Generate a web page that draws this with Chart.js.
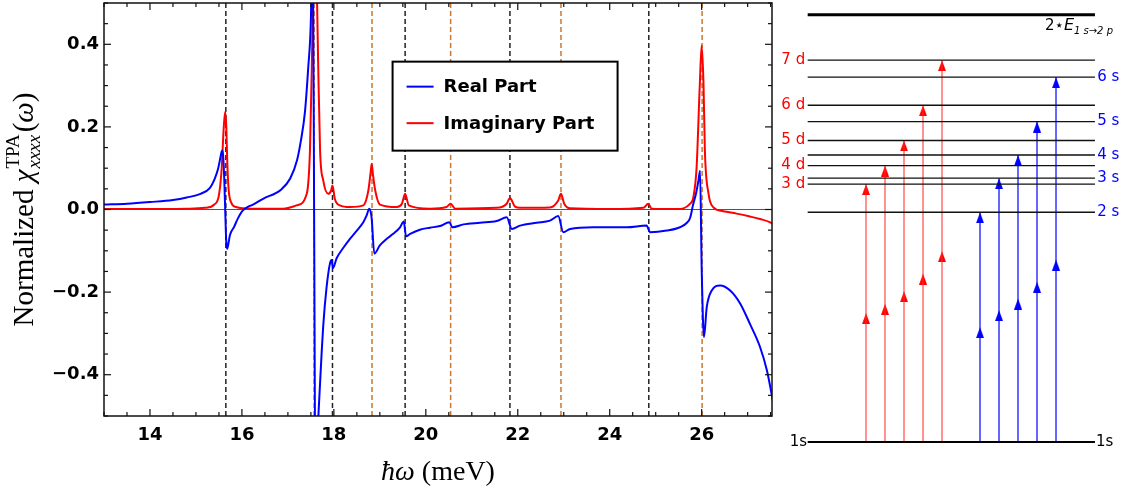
<!DOCTYPE html>
<html>
<head>
<meta charset="utf-8">
<script src="https://cdn.jsdelivr.net/npm/chart.js@4.4.1/dist/chart.umd.min.js"></script>
<style>
  html, body { margin: 0; padding: 0; background: #fff; }
  #wrap { position: relative; width: 1123px; height: 493px; }
  #tpa { position: absolute; left: 0; top: 0; }
  #levels { position: absolute; left: 776px; top: 0; }
</style>
</head>
<body>
<div id="wrap">
  <canvas id="tpa" width="776" height="493"></canvas>
  <canvas id="levels" width="347" height="493"></canvas>
</div>
<script>
// photon energy (meV) and normalized chi
const realX = [13.00, 13.50, 14.00, 14.50, 14.80, 15.10, 15.30, 15.41, 15.48, 15.52, 15.56, 15.58, 15.60, 15.62,
  15.64, 15.66, 15.68, 15.71, 15.74, 15.83, 15.91, 16.02, 16.12, 16.24, 16.46, 16.85, 17.05, 17.20, 17.28,
  17.37, 17.44, 17.50, 17.54, 17.57, 17.60, 17.64, 17.70, 17.77, 17.84, 17.92, 17.95, 17.98, 18.06, 18.21,
  18.35, 18.50, 18.64, 18.71, 18.77, 18.82, 18.88, 19.00, 19.15, 19.29, 19.44, 19.52, 19.57, 19.66, 19.87,
  20.09, 20.31, 20.51, 20.58, 20.82, 21.18, 21.54, 21.76, 21.87, 22.05, 22.41, 22.70, 22.88, 22.99, 23.14,
  23.64, 24.37, 24.80, 24.88, 25.24, 25.53, 25.68, 25.75, 25.81, 25.88, 25.93, 25.965, 26.00, 26.05, 26.11,
  26.22, 26.40, 26.62, 26.84, 27.05, 27.27, 27.42, 27.52, 27.60];
const realY = [0.012, 0.014, 0.018, 0.023, 0.029, 0.038, 0.052, 0.075, 0.098, 0.119, 0.140, 0.143, 0.115, 0.060,
  -0.015, -0.080, -0.095, -0.080, -0.062, -0.042, -0.022, -0.002, 0.006, 0.012, 0.026, 0.048, 0.075, 0.120, 0.165,
  0.235, 0.340, 0.460, 0.700, 0.000, -0.700, -0.560, -0.420, -0.280, -0.190, -0.128, -0.122, -0.142, -0.118, -0.092,
  -0.071, -0.051, -0.031, -0.015, 0.002, -0.019, -0.107, -0.087, -0.071, -0.059, -0.043, -0.029, -0.065, -0.059, -0.049,
  -0.044, -0.040, -0.031, -0.043, -0.036, -0.032, -0.028, -0.019, -0.047, -0.039, -0.032, -0.027, -0.016, -0.055, -0.047,
  -0.043, -0.043, -0.039, -0.055, -0.051, -0.043, -0.032, -0.020, 0.010, 0.040, 0.070, 0.094, -0.140, -0.309, -0.237,
  -0.196, -0.184, -0.196, -0.228, -0.277, -0.333, -0.390, -0.446, -0.494];

const imagX = [13.00, 14.00, 14.80, 15.20, 15.40, 15.50, 15.56, 15.60, 15.635, 15.66, 15.68, 15.71, 15.77, 15.87,
  16.20, 16.90, 17.19, 17.41, 17.48, 17.52, 17.545, 17.59, 17.635, 17.66, 17.70, 17.77, 17.88, 17.94, 17.97,
  18.02, 18.13, 18.35, 18.64, 18.75, 18.80, 18.823, 18.85, 18.90, 19.00, 19.37, 19.48, 19.55, 19.63, 20.09,
  20.45, 20.54, 20.64, 21.54, 21.76, 21.83, 21.94, 22.05, 22.70, 22.88, 22.94, 23.01, 23.14, 24.00, 24.73,
  24.84, 24.91, 25.46, 25.75, 25.82, 25.89, 25.96, 26.00, 26.04, 26.07, 26.15, 26.25, 26.47, 26.76, 27.05,
  27.27, 27.49, 27.60];
const imagY = [0.001, 0.001, 0.002, 0.004, 0.012, 0.035, 0.100, 0.190, 0.236, 0.200, 0.120, 0.050, 0.016, 0.006,
  0.002, 0.002, 0.010, 0.038, 0.143, 0.345, 0.500, 0.900, 0.500, 0.345, 0.143, 0.070, 0.038, 0.046, 0.058,
  0.026, 0.010, 0.006, 0.010, 0.046, 0.090, 0.111, 0.085, 0.046, 0.012, 0.006, 0.014, 0.038, 0.010, 0.002,
  0.006, 0.014, 0.002, 0.004, 0.014, 0.028, 0.007, 0.004, 0.005, 0.022, 0.038, 0.014, 0.003, 0.001, 0.004,
  0.014, 0.002, 0.001, 0.014, 0.030, 0.102, 0.304, 0.397, 0.304, 0.143, 0.038, 0.006, -0.004, -0.010, -0.017,
  -0.023, -0.031, -0.039];

// two-photon resonances (dashed lines), meV
const sResonances = [15.65, 17.97, 19.55, 21.83, 24.85];
const dResonances = [17.57, 18.83, 20.54, 22.94, 26.01];

const xTickLabels = [14, 16, 18, 20, 22, 24, 26];
const yTickLabels = [-0.4, -0.2, 0.0, 0.2, 0.4];

// level scheme (meV above 1s)
const sLevels = [31.3, 35.94, 39.1, 43.66, 49.7];
const dLevels = [35.14, 37.66, 41.08, 45.88, 52.02];
const sNames = ['2 s', '3 s', '4 s', '5 s', '6 s'];
const dNames = ['3 d', '4 d', '5 d', '6 d', '7 d'];
const groundLevel = 0;
const twoPhotonLimit = 58.2;

Chart.defaults.font.family = "'DejaVu Sans', sans-serif";
Chart.defaults.color = '#000';

const isMajorX = v => xTickLabels.some(t => Math.abs(t - v) < 1e-6);
const isMajorY = v => yTickLabels.some(t => Math.abs(t - v) < 1e-6);

function vline(ctx, x, y1, y2) {
  ctx.beginPath(); ctx.moveTo(x, y1); ctx.lineTo(x, y2); ctx.stroke();
}
function hline(ctx, x1, x2, y) {
  ctx.beginPath(); ctx.moveTo(x1, y); ctx.lineTo(x2, y); ctx.stroke();
}

const tpaDecor = {
  id: 'tpaDecor',
  beforeDatasetsDraw(chart) {
    const { ctx, chartArea: a, scales: { x, y } } = chart;
    ctx.save();
    ctx.strokeStyle = '#555';
    ctx.lineWidth = 1.2;
    hline(ctx, a.left, a.right, y.getPixelForValue(0));
    ctx.setLineDash([5, 3]);
    ctx.lineWidth = 1.5;
    ctx.strokeStyle = '#222';
    sResonances.forEach(v => vline(ctx, x.getPixelForValue(v), a.top, a.bottom));
    ctx.strokeStyle = '#c8782f';
    dResonances.forEach(v => vline(ctx, x.getPixelForValue(v), a.top, a.bottom));
    ctx.restore();
  },
  afterDatasetsDraw(chart) {
    const { ctx, chartArea: a, scales: { x, y } } = chart;
    ctx.save();
    // frame + inward ticks
    ctx.strokeStyle = '#111';
    ctx.lineWidth = 1.5;
    ctx.strokeRect(a.left, a.top, a.right - a.left, a.bottom - a.top);
    ctx.lineWidth = 1.2;
    x.ticks.forEach(t => {
      const px = x.getPixelForValue(t.value);
      const len = isMajorX(t.value) ? 7 : 4;
      vline(ctx, px, a.bottom, a.bottom - len);
      vline(ctx, px, a.top, a.top + len);
    });
    y.ticks.forEach(t => {
      const py = y.getPixelForValue(t.value);
      const len = isMajorY(t.value) ? 7 : 4;
      hline(ctx, a.left, a.left + len, py);
      hline(ctx, a.right, a.right - len, py);
    });

    // legend box
    const w = a.right - a.left, h = a.bottom - a.top;
    const bx = a.left + 0.432 * w, by = a.top + 0.142 * h;
    ctx.fillStyle = '#fff';
    ctx.fillRect(bx, by, 225, 89);
    ctx.strokeStyle = '#000';
    ctx.lineWidth = 2;
    ctx.strokeRect(bx, by, 225, 89);
    ctx.font = "bold 18px 'DejaVu Sans'";
    ctx.textBaseline = 'middle';
    chart.data.datasets.forEach((ds, i) => {
      const ly = by + 25 + i * 36.5;
      ctx.strokeStyle = ds.borderColor;
      ctx.lineWidth = 2;
      hline(ctx, bx + 14, bx + 41, ly);
      ctx.fillStyle = '#000';
      ctx.fillText(ds.label, bx + 51, ly + 1);
    });
    ctx.restore();
  },
  afterDraw(chart) {
    const { ctx, chartArea: a } = chart;
    ctx.save();
    ctx.fillStyle = '#000';
    ctx.textBaseline = 'alphabetic';
    // y title
    const big = "29px 'Liberation Serif'", bigIt = "italic 29px 'Liberation Serif'";
    const sm = "19px 'Liberation Serif'", smIt = "italic 19px 'Liberation Serif'";
    const pieces = [['Normalized ', big], ['\u03C7', bigIt]];
    const wOf = (t, f) => { ctx.font = f; return ctx.measureText(t).width; };
    const supW = Math.max(wOf('TPA', sm), wOf('xxxx', smIt)) + 3;
    const tail = [['(', big], ['\u03C9', bigIt], [')', big]];
    let total = supW;
    pieces.concat(tail).forEach(([t, f]) => { total += wOf(t, f); });
    ctx.translate(33, (a.top + a.bottom) / 2);
    ctx.rotate(-Math.PI / 2);
    let cx = -total / 2;
    pieces.forEach(([t, f]) => { ctx.font = f; ctx.fillText(t, cx, 0); cx += ctx.measureText(t).width; });
    ctx.font = sm; ctx.fillText('TPA', cx + 1, -14);
    ctx.font = smIt; ctx.fillText('xxxx', cx + 1, 7);
    cx += supW;
    tail.forEach(([t, f]) => { ctx.font = f; ctx.fillText(t, cx, 0); cx += ctx.measureText(t).width; });
    ctx.setTransform(1, 0, 0, 1, 0, 0);
    // x title
    const big2 = "28px 'Liberation Serif'", big2It = "italic 28px 'Liberation Serif'";
    const xa = wOf('\u0127\u03C9', big2It), xb = wOf(' (meV)', big2);
    let sx = (a.left + a.right) / 2 - (xa + xb) / 2;
    ctx.font = big2It; ctx.fillText('\u0127\u03C9', sx, 480);
    ctx.font = big2; ctx.fillText(' (meV)', sx + xa, 480);
    ctx.restore();
  }
};

const tpaChart = new Chart(document.getElementById('tpa'), {
  type: 'line',
  data: {
    datasets: [
      {
        label: 'Real Part',
        data: realX.map((x, i) => ({ x, y: realY[i] })),
        borderColor: '#0000ff',
        borderWidth: 2,
        pointRadius: 0,
        cubicInterpolationMode: 'monotone',
        clip: 0,
      },
      {
        label: 'Imaginary Part',
        data: imagX.map((x, i) => ({ x, y: imagY[i] })),
        borderColor: '#ff0000',
        borderWidth: 2,
        pointRadius: 0,
        cubicInterpolationMode: 'monotone',
        clip: 0,
      },
    ],
  },
  options: {
    responsive: false,
    animation: false,
    devicePixelRatio: 1,
    layout: { autoPadding: false, padding: { top: 3, right: 4, left: 0, bottom: 0 } },
    plugins: { legend: { display: false }, tooltip: { enabled: false } },
    scales: {
      x: {
        type: 'linear',
        min: 13,
        max: 27.53,
        grid: { display: false, drawTicks: false },
        border: { display: false },
        ticks: {
          stepSize: 0.5,
          autoSkip: false,
          includeBounds: false,
          maxRotation: 0,
          padding: 9,
          font: { size: 18, weight: 'bold' },
          callback: v => (isMajorX(v) ? String(Math.round(v)) : ''),
        },
        afterFit: s => { s.height = 77; s.paddingLeft = 0; s.paddingRight = 0; },
      },
      y: {
        type: 'linear',
        min: -0.5,
        max: 0.5,
        grid: { display: false, drawTicks: false },
        border: { display: false },
        ticks: {
          stepSize: 0.05,
          autoSkip: false,
          includeBounds: false,
          padding: 5,
          font: { size: 18, weight: 'bold' },
          callback: v => (isMajorY(v) ? (Math.round(v * 10) / 10).toFixed(1).replace('-', '\u2212') : ''),
        },
        afterFit: s => { s.width = 104; s.paddingTop = 0; s.paddingBottom = 0; },
      },
    },
  },
  plugins: [tpaDecor],
});

// ---- level scheme ----
const levelLeft = -3.07, levelRight = 12.05;

function headStyle(color) {
  const c = document.createElement('canvas');
  c.width = 8; c.height = 22;
  const g = c.getContext('2d');
  g.fillStyle = color;
  g.beginPath(); g.moveTo(4, 11); g.lineTo(8, 22); g.lineTo(0, 22); g.closePath(); g.fill();
  return c;
}

const levelSegs = [];
sLevels.concat(dLevels).forEach(E => {
  levelSegs.push({ x: levelLeft, y: E }, { x: levelRight, y: E }, { x: levelRight, y: null });
});
const shafts = (levels, offset) => {
  const out = [];
  levels.forEach((E, i) => out.push({ x: i + offset, y: groundLevel }, { x: i + offset, y: E }, { x: i + offset, y: null }));
  return out;
};
const heads = (levels, mids, offset) => {
  const out = [];
  levels.forEach((E, i) => out.push({ x: i + offset, y: E }, { x: i + offset, y: mids[i] }));
  return out;
};

const levelLabels = {
  id: 'levelLabels',
  afterDraw(chart) {
    const { ctx, scales: { x, y } } = chart;
    ctx.save();
    ctx.font = "15px 'DejaVu Sans'";
    ctx.textBaseline = 'middle';
    ctx.textAlign = 'right';
    ctx.fillStyle = '#ff0000';
    dLevels.forEach((E, i) => ctx.fillText(dNames[i], x.getPixelForValue(-3.2), y.getPixelForValue(E)));
    ctx.fillStyle = '#000';
    ctx.fillText('1s', x.getPixelForValue(-3.1), y.getPixelForValue(groundLevel));
    ctx.textAlign = 'left';
    ctx.fillStyle = '#0000ff';
    sLevels.forEach((E, i) => ctx.fillText(sNames[i], x.getPixelForValue(12.17), y.getPixelForValue(E)));
    ctx.fillStyle = '#000';
    ctx.fillText('1s', x.getPixelForValue(12.1), y.getPixelForValue(groundLevel));
    // 2*E_{1s->2p}
    ctx.textBaseline = 'alphabetic';
    const f1 = "15px 'DejaVu Sans'", f2 = "italic 16px 'DejaVu Sans'", f3 = "italic 10px 'DejaVu Sans'";
    const parts = [['2\u22C6', f1, 0], ['E', f2, 0], ['1 s\u21922 p', f3, 4]];
    let tw = 0;
    parts.forEach(([t, f]) => { ctx.font = f; tw += ctx.measureText(t).width; });
    let cx = x.getPixelForValue(13.0) - tw;
    const by = y.getPixelForValue(56.1);
    parts.forEach(([t, f, dy]) => { ctx.font = f; ctx.fillText(t, cx, by + dy); cx += ctx.measureText(t).width; });
    ctx.restore();
  }
};

const levelChart = new Chart(document.getElementById('levels'), {
  type: 'line',
  data: {
    datasets: [
      { data: levelSegs, borderColor: '#111', borderWidth: 1.3, pointRadius: 0, spanGaps: false },
      { data: [{ x: levelLeft, y: twoPhotonLimit }, { x: levelRight, y: twoPhotonLimit }], borderColor: '#000', borderWidth: 3, pointRadius: 0 },
      { data: [{ x: levelLeft, y: groundLevel }, { x: levelRight, y: groundLevel }], borderColor: '#000', borderWidth: 2, pointRadius: 0 },
      { data: shafts(dLevels, 0), borderColor: 'rgba(255,40,40,0.6)', borderWidth: 1.7, pointRadius: 0, spanGaps: false },
      { data: shafts(sLevels, 6), borderColor: 'rgba(0,0,255,0.85)', borderWidth: 1.4, pointRadius: 0, spanGaps: false },
      { data: heads(dLevels, dResonances, 0), showLine: false, pointRadius: 4, pointStyle: headStyle('#ff0000') },
      { data: heads(sLevels, sResonances, 6), showLine: false, pointRadius: 4, pointStyle: headStyle('#0000ff') },
    ],
  },
  options: {
    responsive: false,
    animation: false,
    devicePixelRatio: 1,
    layout: { autoPadding: false, padding: 0 },
    plugins: { legend: { display: false }, tooltip: { enabled: false } },
    scales: {
      x: { type: 'linear', display: false, min: -4.737, max: 13.526 },
      y: { type: 'linear', display: false, min: -6.95, max: 60.22 },
    },
  },
  plugins: [levelLabels],
});
</script>
</body>
</html>
